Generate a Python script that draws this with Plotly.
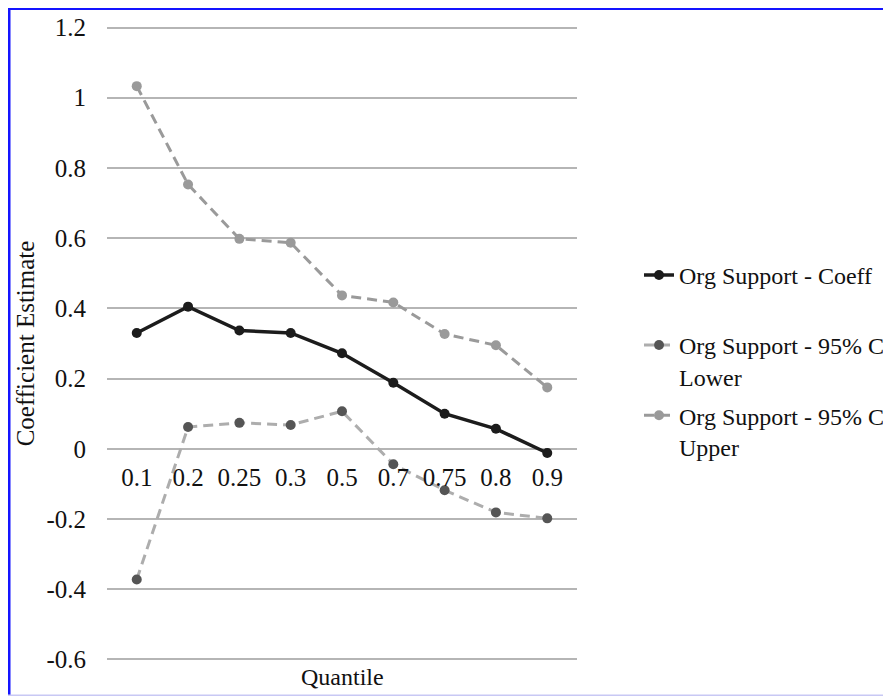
import plotly.graph_objects as go

quantiles = ["0.1", "0.2", "0.25", "0.3", "0.5", "0.7", "0.75", "0.8", "0.9"]
coeff = [0.33, 0.405, 0.337, 0.33, 0.272, 0.188, 0.10, 0.057, -0.012]
ci_lower = [-0.372, 0.062, 0.074, 0.068, 0.107, -0.044, -0.118, -0.181, -0.198]
ci_upper = [1.033, 0.753, 0.598, 0.587, 0.437, 0.417, 0.327, 0.295, 0.175]
y_ticks = [-0.6, -0.4, -0.2, 0, 0.2, 0.4, 0.6, 0.8, 1, 1.2]
y_tick_text = ["-0.6", "-0.4", "-0.2", "0", "0.2", "0.4", "0.6", "0.8", "1", "1.2"]
y_range = [-0.61, 1.21]

# the page adds an 8px body margin, so the figure is 8px smaller
W, H = 883, 688
U = 631 / 1.8                      # pixels per unit on the value axis
ML = 99
MT = 20 - (y_range[1] - 1.2) * U
PW = 470
PH = (y_range[1] - y_range[0]) * U
MR = W - ML - PW
MB = H - MT - PH

def px_x(p):
    return (p - ML) / PW

def px_y(p):
    return 1 - (p - MT) / PH

FONT = "Liberation Serif"
TXT = "#111111"

fig = go.Figure()
fig.add_trace(go.Scatter(
    x=quantiles, y=ci_upper, name="Org Support - 95% CI<br>Upper",
    mode="lines+markers", legend="legend3",
    line=dict(color="#9a9a9a", width=3, dash="10px,6px"),
    marker=dict(color="#9a9a9a", size=10)))
fig.add_trace(go.Scatter(
    x=quantiles, y=ci_lower, name="Org Support - 95% CI<br>Lower",
    mode="lines+markers", legend="legend2",
    line=dict(color="#adadad", width=3, dash="10px,6px"),
    marker=dict(color="#555555", size=10)))
fig.add_trace(go.Scatter(
    x=quantiles, y=coeff, name="Org Support - Coeff",
    mode="lines+markers", legend="legend",
    line=dict(color="#1c1c1c", width=3.5),
    marker=dict(color="#1c1c1c", size=10)))

leg_common = dict(xanchor="left", yanchor="top", bgcolor="rgba(0,0,0,0)",
                  font=dict(family=FONT, size=24, color=TXT),
                  valign="top", itemwidth=30, visible=True)

fig.update_layout(
    width=W, height=H, showlegend=True,
    margin=dict(l=ML, r=MR, t=MT, b=MB, autoexpand=False),
    paper_bgcolor="white", plot_bgcolor="white",
    font=dict(family=FONT, size=25, color=TXT),
    legend=dict(x=px_x(631), y=px_y(245), **leg_common),
    legend2=dict(x=px_x(631), y=px_y(315), **leg_common),
    legend3=dict(x=px_x(631), y=px_y(385), **leg_common),
    xaxis=dict(type="category", categoryorder="array", categoryarray=quantiles,
               anchor="free", position=(0 - y_range[0]) / (y_range[1] - y_range[0]),
               showgrid=False, showline=False, zeroline=False, ticks="",
               ticklabelstandoff=11,
               tickfont=dict(family=FONT, size=25, color=TXT)),
    yaxis=dict(range=y_range, tickvals=y_ticks, ticktext=y_tick_text,
               showgrid=True, gridcolor="#b5b5b5", gridwidth=1.5,
               zeroline=True, zerolinecolor="#b5b5b5", zerolinewidth=1.5,
               showline=False, ticks="", ticklabelstandoff=20,
               tickfont=dict(family=FONT, size=25, color=TXT),
               title=dict(text="Coefficient Estimate", standoff=4,
                          font=dict(family=FONT, size=25, color=TXT))),
    annotations=[dict(text="Quantile", xref="paper", yref="paper",
                      x=0.5, y=px_y(668), xanchor="center", yanchor="middle",
                      showarrow=False,
                      font=dict(family=FONT, size=24, color=TXT))],
    shapes=[
        dict(type="line", xref="paper", yref="paper",
             x0=px_x(0), x1=px_x(W), y0=px_y(0), y1=px_y(0),
             line=dict(color="#1414ff", width=5)),
        dict(type="line", xref="paper", yref="paper",
             x0=px_x(0), x1=px_x(0), y0=px_y(0), y1=px_y(H),
             line=dict(color="#1414ff", width=5)),
        dict(type="line", xref="paper", yref="paper",
             x0=px_x(0), x1=px_x(W), y0=px_y(H - 1), y1=px_y(H - 1),
             line=dict(color="#c8c8f4", width=2)),
    ],
)

fig.write_html("out.html")
